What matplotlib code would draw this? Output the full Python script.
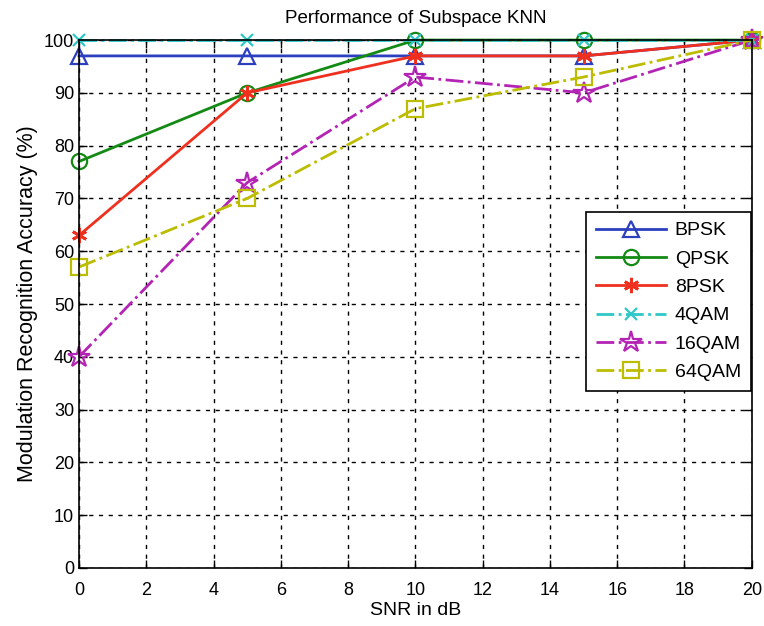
import matplotlib
matplotlib.use("Agg")
import matplotlib.pyplot as plt

plt.rcParams['font.family'] = ['Liberation Sans', 'DejaVu Sans']

snr = [0, 5, 10, 15, 20]
bpsk = [97, 97, 97, 97, 100]
qpsk = [77, 90, 100, 100, 100]
psk8 = [63, 90, 97, 97, 100]
qam4 = [100, 100, 100, 100, 100]
qam16 = [40, 73, 93, 90, 100]
qam64 = [57, 70, 87, 93, 100]
xticks = list(range(0, 21, 2))
yticks = list(range(0, 101, 10))

fig = plt.figure(figsize=(7.64, 6.26), dpi=100)
ax = fig.add_axes([0.1034, 0.0927, 0.8806, 0.8433])

ms = 11
kw = dict(clip_on=False, lw=2)
ax.plot(snr, bpsk, '-', color='#2b3fbf', marker='^', ms=ms, mfc='none', mew=1.6, label='BPSK', **kw)
ax.plot(snr, qpsk, '-', color='#138a13', marker='o', ms=ms, mfc='none', mew=1.6, label='QPSK', **kw)
ax.plot(snr, psk8, '-', color='#f0301e', marker=(6, 2, 0), ms=ms, mew=2, label='8PSK', **kw)
ax.plot(snr, qam4, '-.', color='#2fc8c8', marker='x', ms=8, mew=1.6, label='4QAM', **kw)
ax.plot(snr, qam16, '-.', color='#b424b4', marker='*', ms=16, mfc='none', mew=1.6, label='16QAM', **kw)
ax.plot(snr, qam64, '-.', color='#bcbc00', marker='s', ms=ms, mfc='none', mew=1.6, label='64QAM', **kw)

ax.set_xlim(0, 20)
ax.set_ylim(0, 100)
ax.set_xticks(xticks)
ax.set_yticks(yticks)
ax.tick_params(direction='in', length=6, labelsize=13, top=True, right=True, width=1)
ax.tick_params(axis='x', pad=10)
ax.grid(True, linestyle=(0, (3, 4)), color='black', lw=1)
for s in ax.spines.values():
    s.set_linewidth(1.2)

ax.set_title('Performance of Subspace KNN', fontsize=13.5, pad=12)
ax.set_xlabel('SNR in dB', fontsize=14, labelpad=2)
ax.set_ylabel('Modulation Recognition Accuracy (%)', fontsize=15.5, labelpad=4)

leg = ax.legend(loc='upper right', bbox_to_anchor=(0.9985, 0.674), fontsize=14,
                fancybox=False, edgecolor='black', framealpha=1, handlelength=3.6,
                handletextpad=0.45, borderpad=0.5, labelspacing=0.55, borderaxespad=0)
leg.get_frame().set_linewidth(1.2)

fig.savefig('out.png', dpi=100)
